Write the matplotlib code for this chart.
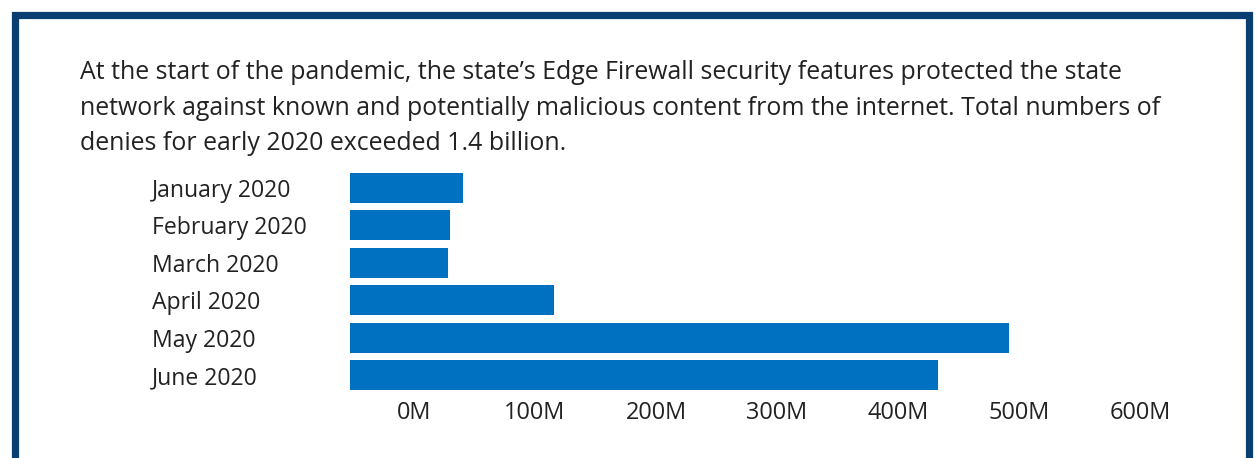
import matplotlib.pyplot as plt
import matplotlib.transforms as mtransforms
from matplotlib.patches import Rectangle
import numpy as np

months = ['January 2020', 'February 2020', 'March 2020', 'April 2020', 'May 2020', 'June 2020']
denies = [93, 83, 81, 169, 545, 486]  # millions
tick_vals = [0, 100, 200, 300, 400, 500, 600]
tick_labels = ['0M', '100M', '200M', '300M', '400M', '500M', '600M']

title = ("At the start of the pandemic, the state\u2019s Edge Firewall security features protected the state\n"
         "network against known and potentially malicious content from the internet. Total numbers of\n"
         "denies for early 2020 exceeded 1.4 billion.")

W, H = 1257, 458
fig = plt.figure(figsize=(W / 100, H / 100), dpi=100)
fig.patch.set_facecolor('white')

# frame
fig.patches.append(Rectangle((14.5 / W, -0.2), (1248.5 - 14.5) / W, 1.2 - 14.5 / H,
                             transform=fig.transFigure, fill=False,
                             edgecolor='#0a3d70', linewidth=5.2))

# baseline of last line at y=150 px
fig.text(80 / W, 1 - 150 / H, title, fontsize=17.95, family='Open Sans', color='#222222',
         va='baseline', ha='left', linespacing=1.55)

# axes: zero at x=350, 121 px per 100M
ax_left, ax_top, ax_bot = 350, 169.3, 393.7
ax_w = 121 * 7
ax = fig.add_axes([ax_left / W, 1 - ax_bot / H, ax_w / W, (ax_bot - ax_top) / H])
y = np.arange(len(months))
ax.barh(y, denies, height=0.8, color='#0070c0')
ax.set_xlim(0, 700)
ax.set_ylim(len(months) - 0.5, -0.5)

ax.set_yticks(y, months)
ax.tick_params(axis='y', length=0, pad=142.5, labelsize=16.6, labelcolor='#222222')
for lab in ax.get_yticklabels():
    lab.set_ha('left')
    lab.set_family('Open Sans')

ax.set_xticks(tick_vals, tick_labels)
ax.tick_params(axis='x', length=0, pad=5, labelsize=16.9, labelcolor='#222222')
shift = mtransforms.ScaledTranslation(64 / 100, 0, fig.dpi_scale_trans)
for lab in ax.get_xticklabels():
    lab.set_family('Open Sans')
    lab.set_transform(lab.get_transform() + shift)

for s in ax.spines.values():
    s.set_visible(False)

fig.savefig('out.png', dpi=100)
